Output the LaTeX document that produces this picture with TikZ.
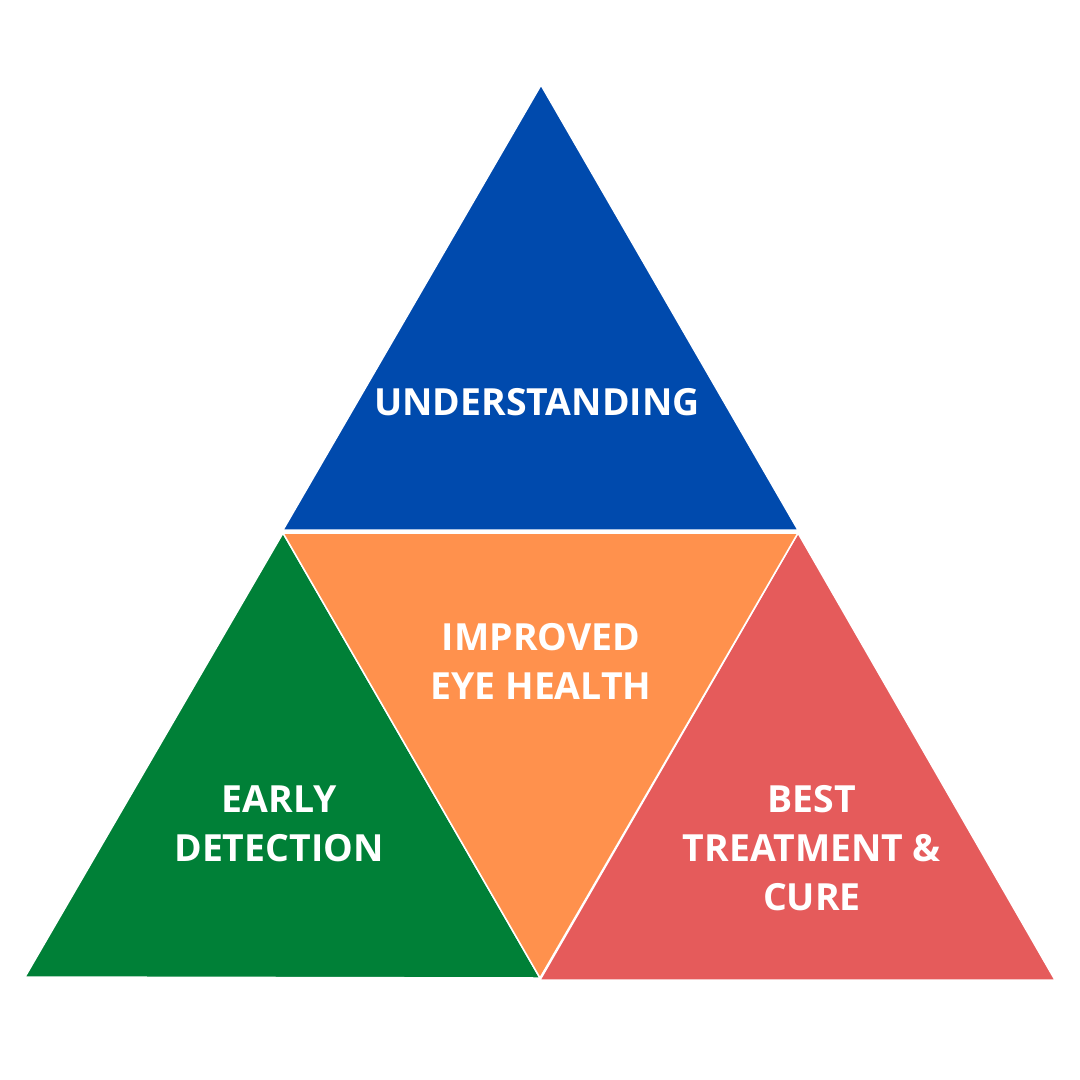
\documentclass[tikz,border=0pt]{standalone}
\usepackage{fontspec}
\setmainfont{Open Sans}
\definecolor{cblue}{HTML}{004AAD}
\definecolor{corange}{HTML}{FF914D}
\definecolor{cgreen}{HTML}{008037}
\definecolor{cred}{HTML}{E55B5B}
\begin{document}
\begin{tikzpicture}[x=1pt,y=-1pt,
  tri/.style={draw=white,line width=1.5pt,line join=miter},
  lbl/.style={text=white,font=\fontsize{37.4}{49}\selectfont\bfseries,align=center,inner sep=0pt}]
\useasboundingbox (0,0) rectangle (1080,1080);
\fill[white] (0,0) rectangle (1080,1080);
\filldraw[tri,fill=cblue] (541,85) -- (798,530) -- (283,530) -- cycle;
\filldraw[tri,fill=cgreen] (283,533) -- (540,978) -- (25,977) -- cycle;
\filldraw[tri,fill=cred] (798,533) -- (1055,980) -- (540,980) -- cycle;
\filldraw[tri,fill=corange] (283,533) -- (798,533) -- (540,978) -- cycle;
\node[lbl] (u) at (537,402) {UNDERSTANDING};
\node[lbl] (i) at (541,661) {IMPROVED\\EYE HEALTH};
\node[lbl] (e) at (279,824) {EARLY\\DETECTION};
\node[lbl] (b) at (812,848) {BEST\\TREATMENT \&\\CURE};
\end{tikzpicture}
\end{document}
